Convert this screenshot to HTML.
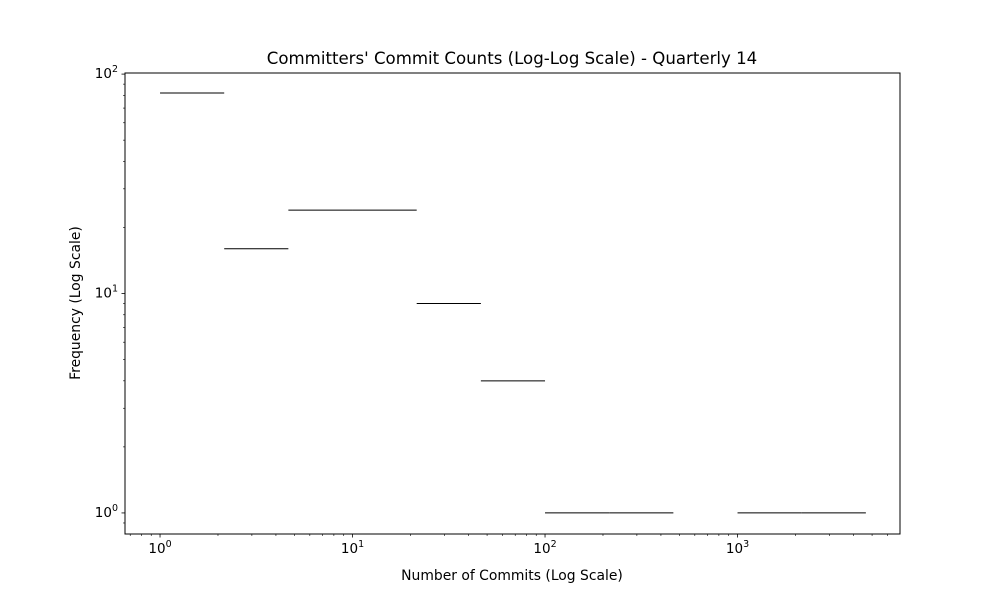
<!DOCTYPE html>
<html><head><meta charset="utf-8"><style>body{margin:0;background:#fff}svg{display:block}text{font-family:"DejaVu Sans","Liberation Sans",sans-serif;fill:#000}</style></head>
<body>
<svg id="chart" width="1000" height="600" xmlns="http://www.w3.org/2000/svg">
<rect x="125" y="73" width="775" height="461" fill="none" stroke="#000" stroke-width="1"/>
<text x="512" y="64" font-size="16.6" text-anchor="middle">Committers' Commit Counts (Log-Log Scale) - Quarterly 14</text>
<text x="512" y="580" font-size="13.9" text-anchor="middle">Number of Commits (Log Scale)</text>
<text transform="translate(80,303) rotate(-90)" font-size="13.9" text-anchor="middle">Frequency (Log Scale)</text>
<g id="ticks"></g><g id="bars"></g>
</svg>
<script>
const binEdgesLog = [0,1/3,2/3,1,4/3,5/3,2,7/3,8/3,3,10/3,11/3];
const counts = [82,16,24,24,9,4,1,1,0,1,1];
const xTickExps = [0,1,2,3];
const yTickExps = [0,1,2];
const NS="http://www.w3.org/2000/svg";
const xl=-0.182, xr=3.844, L=125, R=900;
const yb=-0.096, yt=2.005, B=534, T=73;
function X(lg){return L+(lg-xl)/(xr-xl)*(R-L);}
function Y(lg){return B-(lg-yb)/(yt-yb)*(B-T);}
function mk(tag,attrs,parent){const e=document.createElementNS(NS,tag);for(const k in attrs)e.setAttribute(k,attrs[k]);parent.appendChild(e);return e;}
const tk=document.getElementById('ticks'), bars=document.getElementById('bars');
for(let d=-1;d<=3;d++)for(let m=1;m<10;m++){const lg=d+Math.log10(m);if(lg<xl||lg>xr)continue;const x=X(lg);const major=m===1;
 const t=mk('line',{x1:x,x2:x,y1:B,y2:B+(major?3.5:2),stroke:'#000','stroke-width':major?0.8:0.6},tk);
 
 }
xTickExps.forEach(e=>{const t=mk('text',{x:X(e),y:B+19,'font-size':13.5,'text-anchor':'middle'},tk);
 
 
 t.innerHTML='10<tspan dy="-6" font-size="9.5">'+e+'</tspan>';});
for(let d=-1;d<=2;d++)for(let m=1;m<10;m++){const lg=d+Math.log10(m);if(lg<yb||lg>yt)continue;const y=Y(lg);const major=m===1;
 const t=mk('line',{x1:L,x2:L-(major?3.5:2),y1:y,y2:y,stroke:'#000','stroke-width':major?0.8:0.6},tk);
 
 }
yTickExps.forEach(e=>{const t=mk('text',{x:L-7,y:Y(e)+4,'font-size':13.5,'text-anchor':'end'},tk);
 
 
 t.innerHTML='10<tspan dy="-6" font-size="9.5">'+e+'</tspan>';});
counts.forEach((c,i)=>{if(c<=0)return;const y=Y(Math.log10(c));
 const b=mk('line',{x1:X(binEdgesLog[i]),x2:X(binEdgesLog[i+1]),y1:y,y2:y,stroke:'#000','stroke-width':1},bars);
 
 });
</script>
</body></html>
